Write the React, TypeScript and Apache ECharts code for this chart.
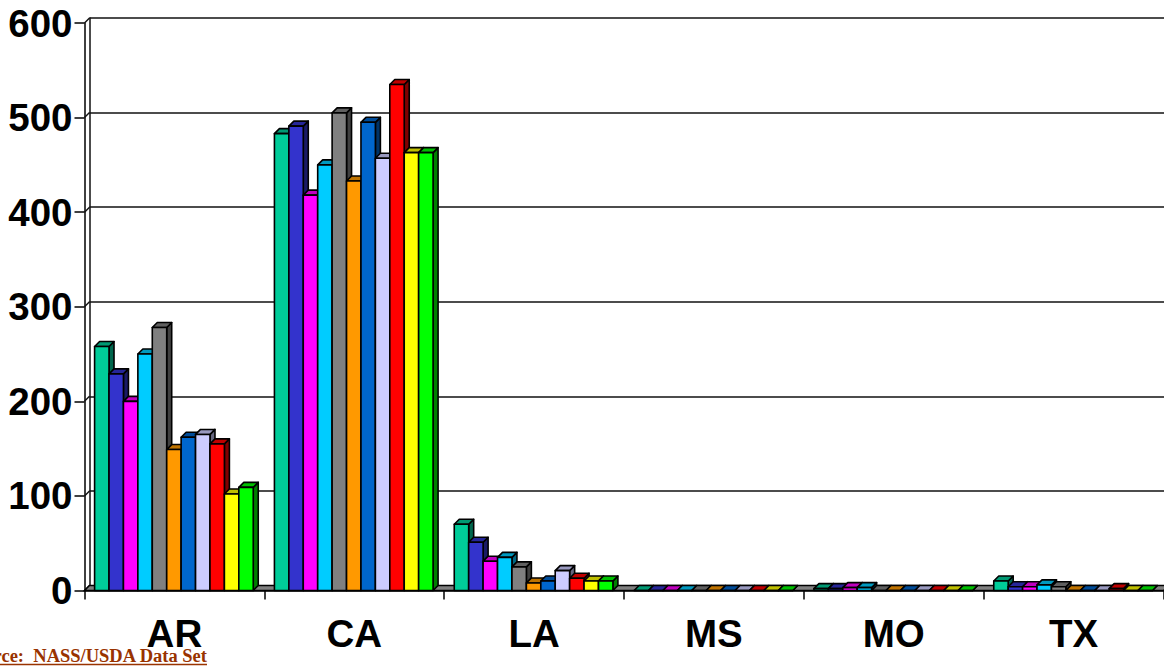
import React, { useEffect, useRef } from "react";
import * as echarts from "echarts";

const categories = ["AR", "CA", "LA", "MS", "MO", "TX"];
const yTicks = [0, 100, 200, 300, 400, 500, 600];
const s1 = [258, 483, 70, 0, 2, 10];
const s2 = [229, 491, 51, 0, 2, 4];
const s3 = [200, 418, 31, 0, 3, 4];
const s4 = [250, 450, 35, 0, 3, 6];
const s5 = [278, 505, 25, 0, 0, 4];
const s6 = [149, 433, 8, 0, 0, 0];
const s7 = [162, 495, 10, 0, 0, 0];
const s8 = [165, 457, 21, 0, 0, 0];
const s9 = [155, 535, 13, 0, 0, 2];
const s10 = [102, 463, 10, 0, 0, 0];
const s11 = [109, 463, 10, 0, 0, 0];
const seriesValues = [s1, s2, s3, s4, s5, s6, s7, s8, s9, s10, s11];
const fronts = ["#00CC99", "#3333CC", "#FF00FF", "#00CCFF", "#808080", "#FF9900", "#0066CC", "#CCCCFF", "#FF0000", "#FFFF00", "#00FF00"];
const tops = ["#009973", "#262699", "#BF00BF", "#0099BF", "#606060", "#BF7300", "#004C99", "#9999BF", "#BF0000", "#BFBF00", "#00BF00"];
const sides = ["#00664D", "#1A1A66", "#800080", "#006680", "#404040", "#804D00", "#003366", "#666680", "#800000", "#808000", "#008000"];

const DEPTH = 5;
const BAR_SHARE = 0.0802;
const LINE = "#111111";

export default function App() {
  const ref = useRef<HTMLDivElement>(null);
  useEffect(() => {
    document.body.style.margin = "0";
    const chart = echarts.init(ref.current!, undefined, { renderer: "svg" });
    const barSeries = seriesValues.map((vals, i) => ({
      type: "custom",
      name: `Series ${i + 1}`,
      xAxisIndex: 0,
      yAxisIndex: 0,
      z: 5,
      clip: false,
      encode: { x: 0, y: 1 },
      data: vals.map((v, c) => [c, v]),
      renderItem: (_p: any, api: any) => {
        const c = api.value(0);
        const center = api.coord([c, 0]);
        const topPt = api.coord([c, api.value(1)]);
        const band = api.size([1, 0])[0];
        const w = band * BAR_SHARE;
        const x0 = center[0] - (w * 11) / 2 + i * w - 0.5;
        const x1 = x0 + w;
        const yb = center[1];
        const yt = topPt[1];
        const stroke = { stroke: "#000", lineWidth: 1.6, lineJoin: "round" };
        return {
          type: "group",
          children: [
            { type: "polygon", shape: { points: [[x1, yt], [x1 + DEPTH, yt - DEPTH], [x1 + DEPTH, yb - DEPTH], [x1, yb]] }, style: { fill: sides[i], ...stroke } },
            { type: "polygon", shape: { points: [[x0, yt], [x0 + DEPTH, yt - DEPTH], [x1 + DEPTH, yt - DEPTH], [x1, yt]] }, style: { fill: tops[i], ...stroke } },
            { type: "rect", shape: { x: x0, y: yt, width: w, height: yb - yt }, style: { fill: fronts[i], ...stroke } },
          ],
        };
      },
    }));

    const wallDiagonals = {
      type: "custom",
      xAxisIndex: 0,
      yAxisIndex: 0,
      z: 3,
      clip: false,
      encode: { y: 0 },
      data: yTicks.map((t) => [t]),
      renderItem: (_p: any, api: any) => {
        const p = api.coord([0, api.value(0)]);
        const x = p[0] - api.size([1, 0])[0] / 2;
        return { type: "line", shape: { x1: x, y1: p[1], x2: x + DEPTH, y2: p[1] - DEPTH }, style: { stroke: LINE, lineWidth: 1.5 } };
      },
    };

    const floor = {
      type: "custom",
      xAxisIndex: 0,
      yAxisIndex: 0,
      z: 4,
      clip: false,
      data: [[0, 0]],
      encode: { x: 0, y: 1 },
      renderItem: (_p: any, api: any) => {
        const band = api.size([1, 0])[0];
        const a = api.coord([0, 0]);
        const b = api.coord([categories.length - 1, 0]);
        const xl = a[0] - band / 2;
        const xr = b[0] + band / 2;
        return {
          type: "polygon",
          shape: { points: [[xl, a[1]], [xl + DEPTH, a[1] - DEPTH], [xr + DEPTH, a[1] - DEPTH], [xr, a[1]]] },
          style: { fill: "#808080", stroke: "#000", lineWidth: 1.5 },
        };
      },
    };

    chart.setOption({
      animation: false,
      backgroundColor: "#fff",
      grid: [
        { left: 84.5, top: 23, width: 1079, height: 567.5 },
        { left: 89.5, top: 18, width: 1079, height: 567.5 },
      ],
      xAxis: [
        {
          type: "category",
          gridIndex: 0,
          data: categories,
          axisLine: { show: true, lineStyle: { color: "#000", width: 1.5 } },
          axisTick: { show: true, length: 9, lineStyle: { color: "#000", width: 1.5 } },
          axisLabel: { color: "#000", fontFamily: "Liberation Sans", fontWeight: "bold", fontSize: 38.5, margin: 23, interval: 0 },
          splitLine: { show: false },
        },
        {
          type: "category",
          gridIndex: 1,
          data: categories,
          axisLine: { show: false },
          axisTick: { show: false },
          axisLabel: { show: false },
          splitLine: { show: false },
        },
      ],
      yAxis: [
        {
          type: "value",
          gridIndex: 0,
          min: 0,
          max: 600,
          interval: 100,
          axisLine: { show: true, lineStyle: { color: "#000", width: 1.5 } },
          axisTick: { show: true, length: 10, lineStyle: { color: "#000", width: 1.5 } },
          axisLabel: { color: "#000", fontFamily: "Liberation Sans", fontWeight: "bold", fontSize: 38.5, margin: 12 },
          splitLine: { show: false },
        },
        {
          type: "value",
          gridIndex: 1,
          min: 0,
          max: 600,
          interval: 100,
          axisLine: { show: true, lineStyle: { color: LINE, width: 1.5 } },
          axisTick: { show: false },
          axisLabel: { show: false },
          splitLine: { show: true, lineStyle: { color: LINE, width: 1.5 } },
        },
      ],
      series: [wallDiagonals, floor, ...barSeries],
      graphic: [
        {
          type: "text",
          z: 20,
          x: 207,
          y: 656,
          style: {
            text: "Source:  NASS/USDA Data Set",
            fill: "#993300",
            font: "bold 18.5px 'Liberation Serif'",
            textAlign: "right",
            textVerticalAlign: "middle",
          },
        },
        { type: "line", z: 20, shape: { x1: 0, y1: 664.5, x2: 207, y2: 664.5 }, style: { stroke: "#993300", lineWidth: 1.5 } },
      ],
    });
    return () => chart.dispose();
  }, []);
  return <div ref={ref} style={{ width: 1164, height: 666, overflow: "hidden" }} />;
}
